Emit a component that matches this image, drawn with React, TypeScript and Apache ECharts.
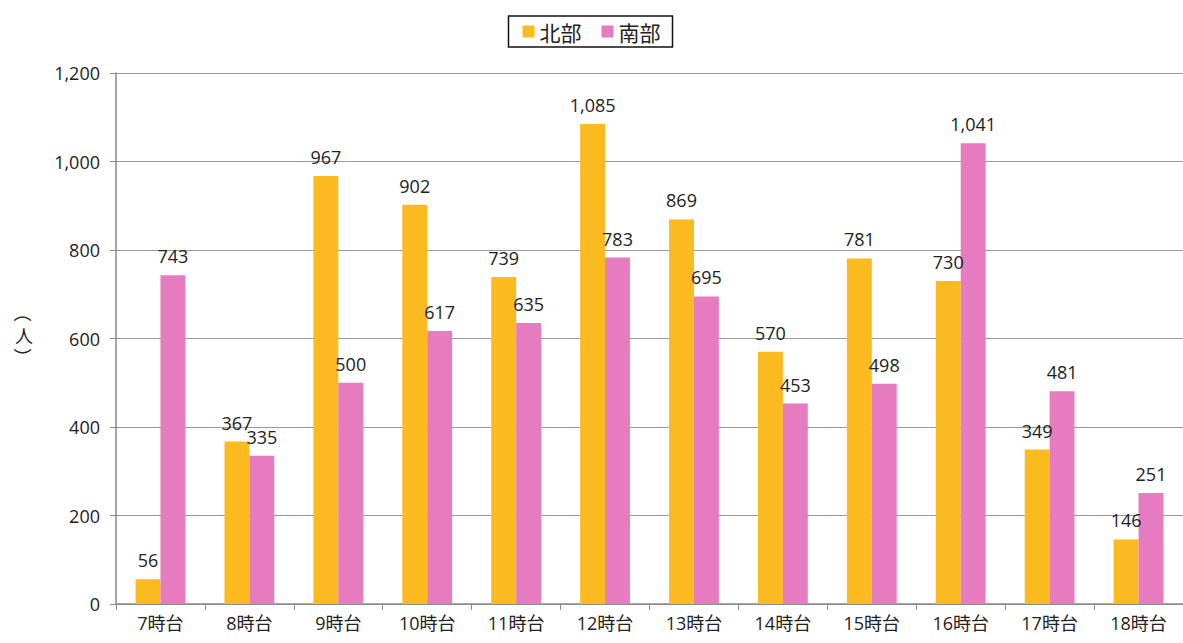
import React, { useEffect, useRef } from "react";
import * as echarts from "echarts";

const categories = ["7時台", "8時台", "9時台", "10時台", "11時台", "12時台", "13時台", "14時台", "15時台", "16時台", "17時台", "18時台"];
const north = [56, 367, 967, 902, 739, 1085, 869, 570, 781, 730, 349, 146];
const south = [743, 335, 500, 617, 635, 783, 695, 453, 498, 1041, 481, 251];
const seriesNames = ["北部", "南部"];

const FONT = "'Open Sans', 'Noto Sans CJK JP', sans-serif";
const CJK = "'Noto Sans CJK JP', sans-serif";

export default function App() {
  const ref = useRef<HTMLDivElement>(null);
  useEffect(() => {
    document.body.style.margin = "0";
    const chart = echarts.init(ref.current!, null, { renderer: "svg" });
    const label = {
      show: true,
      position: "top" as const,
      distance: 10,
      fontSize: 18,
      color: "#222",
      fontFamily: FONT,
      formatter: (p: any) => Number(p.value).toLocaleString("en-US"),
    };
    chart.setOption({
      animation: false,
      backgroundColor: "#fff",
      textStyle: { fontFamily: FONT },
      legend: {
        data: seriesNames,
        top: 16,
        left: "center",
        itemWidth: 12,
        itemHeight: 12,
        itemGap: 20,
        icon: "rect",
        borderColor: "#111",
        borderWidth: 1.5,
        padding: [5, 12, 5, 14],
        textStyle: { fontSize: 21, color: "#222", fontFamily: CJK },
      },
      grid: { left: 116, right: 0, top: 73, bottom: 39, containLabel: false },
      xAxis: {
        type: "category",
        data: categories,
        axisLine: { lineStyle: { color: "#888", width: 1.5 } },
        axisTick: { show: true, length: 6, lineStyle: { color: "#888" } },
        axisLabel: { fontSize: 18, color: "#222", margin: 10, fontFamily: FONT },
      },
      yAxis: {
        type: "value",
        min: 0,
        max: 1200,
        interval: 200,
        axisLine: { show: true, lineStyle: { color: "#888", width: 1.5 } },
        axisTick: { show: true, length: 6, lineStyle: { color: "#888" } },
        axisLabel: {
          fontSize: 18,
          color: "#222",
          margin: 16,
          fontFamily: FONT,
          formatter: (v: number) => v.toLocaleString("en-US"),
        },
        splitLine: { lineStyle: { color: "#999", width: 1.2 } },
      },
      graphic: [
        {
          type: "text",
          x: 24,
          y: 313,
          rotation: -Math.PI / 2,
          style: { text: "（", fontSize: 18, fill: "#222", align: "center", verticalAlign: "middle", fontFamily: CJK },
        },
        {
          type: "text",
          x: 24,
          y: 335,
          style: { text: "人", fontSize: 18, fill: "#222", align: "center", verticalAlign: "middle", fontFamily: CJK },
        },
        {
          type: "text",
          x: 24,
          y: 357,
          rotation: -Math.PI / 2,
          style: { text: "）", fontSize: 18, fill: "#222", align: "center", verticalAlign: "middle", fontFamily: CJK },
        },
      ],
      series: [
        {
          name: seriesNames[0],
          type: "bar",
          data: north,
          barGap: "0%",
          barCategoryGap: "44%",
          itemStyle: { color: "#FBBA1F" },
          label,
        },
        {
          name: seriesNames[1],
          type: "bar",
          data: south,
          barGap: "0%",
          barCategoryGap: "44%",
          itemStyle: { color: "#E67BC0" },
          label,
        },
      ],
    });
    return () => chart.dispose();
  }, []);
  return <div ref={ref} style={{ width: 1183, height: 643 }} />;
}
